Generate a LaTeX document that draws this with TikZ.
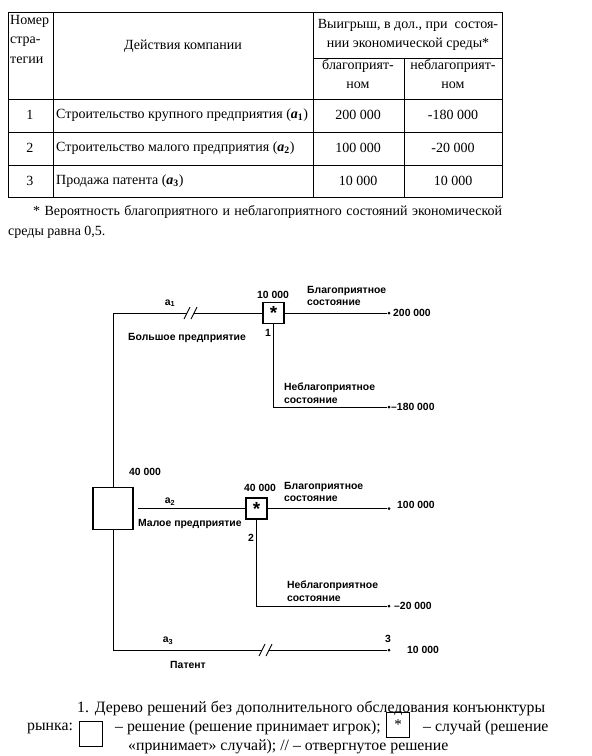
\documentclass[tikz,border=0pt]{standalone}
\usepackage{fontspec}
\setmainfont{Liberation Serif}
\newfontfamily\treefont{Liberation Sans}
\usetikzlibrary{positioning}
\newcommand{\chancemark}{\raisebox{-8pt}{\treefont\bfseries\fontsize{19}{19}\selectfont *}}
\tikzset{
  cell/.style={inner sep=0pt, font=\fontsize{14}{19.5}\selectfont},
  capt/.style={inner sep=0pt, anchor=west, font=\fontsize{15.8}{17}\selectfont},
  rule/.style={line width=1pt, draw=black},
  treeline/.style={line width=0.9pt},
  decision/.style={rectangle, draw, line width=1.3pt, fill=white,
    minimum width=40pt, minimum height=42pt, inner sep=0pt},
  chance/.style={rectangle, draw, line width=1.1pt, fill=white,
    minimum width=21pt, minimum height=21pt, inner sep=0pt},
  legendbox/.style={rectangle, draw, line width=0.8pt,
    minimum width=23pt, minimum height=25pt, inner sep=0pt,
    font=\fontsize{15}{15}\selectfont},
  lbl/.style={inner sep=0pt, align=left,
    font=\treefont\bfseries\fontsize{10.4}{12.5}\selectfont},
  payoff/.style={lbl, anchor=west},
  tip/.style={circle, fill, inner sep=0pt, minimum size=3pt},
  cut/.style={line width=0.9pt}
}

\begin{document}
\begin{tikzpicture}[x=1pt,y=-1pt]
\useasboundingbox (0,0) rectangle (592,756);

% table
\draw[rule] (8,12) rectangle (502,197);
\draw[rule] (53,12) -- (53,197);
\draw[rule] (313,12) -- (313,197);
\draw[rule] (404,58) -- (404,197);
\draw[rule] (313,58) -- (502,58);
\foreach \y in {99,132,165}
  \draw[rule] (8,\y) -- (502,\y);

\node[cell, anchor=north west, align=left] (hnum) at (10,15) {Номер\\стра-\\тегии};
\node[cell] (hact) at (183,46) {Действия компании};
\node[cell, align=center] (hpay) at (408,35) {Выигрыш, в дол., при\ \ состоя-\\нии экономической среды*};
\node[cell, align=center] (hgood) at (358,74) {благоприят-\\ном};
\node[cell, align=center] (hbad) at (453,74) {неблагоприят-\\ном};

\node[cell] (n1) at (30,115) {1};
\node[cell] (n2) at (30,148) {2};
\node[cell] (n3) at (30,181) {3};
\node[cell, anchor=west] (s1) at (56,115) {Строительство крупного предприятия (\textbf{\textit{a}\textsubscript{1}})};
\node[cell, anchor=west] (s2) at (56,148) {Строительство малого предприятия (\textbf{\textit{a}\textsubscript{2}})};
\node[cell, anchor=west] (s3) at (56,181) {Продажа патента (\textbf{\textit{a}\textsubscript{3}})};
\node[cell] (g1) at (358,115) {200 000};
\node[cell] (g2) at (358,148) {100 000};
\node[cell] (g3) at (358,181) {10 000};
\node[cell] (b1) at (453,115) {-180 000};
\node[cell] (b2) at (453,148) {-20 000};
\node[cell] (b3) at (453,181) {10 000};

\node[cell, anchor=west] (note1) at (33,212) {\makebox[469pt][s]{* Вероятность благоприятного и неблагоприятного состояний экономической}};
\node[cell, anchor=west] (note2) at (8,232) {среды равна 0,5.};

% decision tree
\coordinate (top) at (113,313);
\coordinate (bot) at (113,650);
\node[decision] (dec) at (113,508.5) {};
\node[chance] (ch1) at (273.5,313) {\chancemark};
\node[chance] (ch2) at (256.5,508.5) {\chancemark};
\node[tip] (e1) at (389,313) {};
\node[tip] (e2) at (389,407) {};
\node[tip] (e3) at (389,508.5) {};
\node[tip] (e4) at (389,606) {};
\node[tip] (e5) at (389,650) {};
\coordinate (cut1a) at (187,313);
\coordinate (cut1b) at (194,313);
\coordinate (cut3a) at (262,650);
\coordinate (cut3b) at (269,650);

\draw[treeline] (dec.north) -- (top) -- (cut1a);
\draw[treeline] (cut1b) -- (ch1.west);
\draw[treeline] (ch1.east) -- (e1);
\draw[treeline] (ch1.south) |- (e2);
\draw[treeline] ([xshift=4pt]dec.east) -- (ch2.west);
\draw[treeline] (ch2.east) -- (e3);
\draw[treeline] (ch2.south) |- (e4);
\draw[treeline] (dec.south) -- (bot) -- (cut3a);
\draw[treeline] (cut3b) -- (e5);
\foreach \c in {cut1a,cut1b,cut3a,cut3b}
  \draw[cut] ([xshift=-3pt,yshift=-6pt]\c) -- ([xshift=3pt,yshift=6pt]\c);

\node[lbl] (la1) at (170,303) {a\textsubscript{1}};
\node[lbl, anchor=west] (big) at (128,338) {Большое предприятие};
\node[lbl] (v1) at (273,295) {10 000};
\node[lbl, anchor=west] (good1) at (307,296) {Благоприятное\\состояние};
\node[lbl] (k1) at (268,333) {1};
\node[lbl, anchor=west] (bad1) at (284,393) {Неблагоприятное\\состояние};
\node[payoff] (p1) at (393,313) {200 000};
\node[payoff] (p2) at (391,407) {–180 000};

\node[lbl] (v0) at (145,472) {40 000};
\node[lbl] (la2) at (170,502) {a\textsubscript{2}};
\node[lbl] (v2) at (260,488) {40 000};
\node[lbl, anchor=west] (good2) at (284,492) {Благоприятное\\состояние};
\node[payoff] (p3) at (397,505) {100 000};
\node[lbl, anchor=west] (small) at (138,524) {Малое предприятие};
\node[lbl] (k2) at (251,538) {2};
\node[lbl, anchor=west] (bad2) at (287,591) {Неблагоприятное\\состояние};
\node[payoff] (p4) at (394,606) {–20 000};

\node[lbl] (la3) at (168,641) {a\textsubscript{3}};
\node[lbl] (pat) at (188,665) {Патент};
\node[lbl] (k3) at (388,639) {3};
\node[lbl] (p5) at (423,650) {10 000};

% caption
\node[capt] (cap1) at (77,709) {\makebox[468pt][s]{1. Дерево решений без дополнительного обследования конъюнктуры}};
\node[capt] (cap2) at (27,728) {рынка:};
\node[legendbox] (lgdec) at (91,733.5) {};
\node[capt] (cap3) at (115,728) {– решение (решение принимает игрок);};
\node[legendbox] (lgch) at (398,725) {*};
\node[capt] (cap4) at (423,728) {– случай (решение};
\node[capt] (cap5) at (128,747) {«принимает» случай); // – отвергнутое решение};
\end{tikzpicture}
\end{document}
